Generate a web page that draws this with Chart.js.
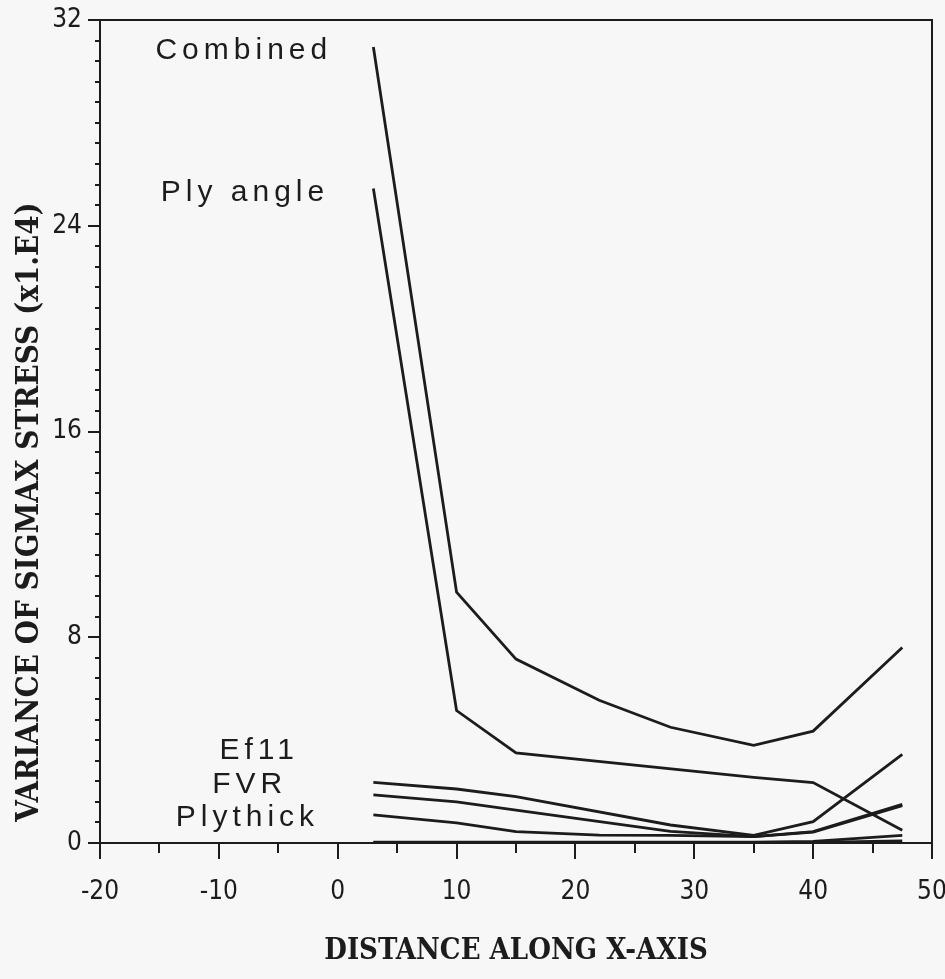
<!DOCTYPE html>
<html>
<head>
<meta charset="utf-8">
<title>Variance of sigmax stress</title>
<script src="https://cdn.jsdelivr.net/npm/chart.js@4.4.0/dist/chart.umd.min.js"></script>
<style>
    html, body { margin: 0; padding: 0; background: #f7f7f7; }
    #stressChart { display: block; }
</style>
</head>
<body>
<canvas id="stressChart" width="945" height="979"></canvas>
<script>
// Stations along the x-axis where the variance was evaluated
const distance = [3, 10, 15, 22, 28, 35, 40, 47.5];

// Variance of sigmax stress (x1.E4) per parameter group
const combined = [30.95, 9.75, 7.15, 5.55, 4.5, 3.8, 4.35, 7.6];
const plyAngle = [25.45, 5.15, 3.5, null, null, 2.55, 2.35, 0.5];
const ef11 = [2.36, 2.1, 1.8, null, 0.7, 0.3, 0.83, 3.45];
const fvr = [1.87, 1.6, 1.28, null, 0.45, 0.25, 0.44, 1.5];
const plythick = [1.09, 0.78, 0.44, 0.31, 0.3, 0.25, 0.42, 1.45];
const otherA = [0.03, 0.03, 0.03, null, 0.03, 0.03, 0.06, 0.3];
const otherB = [0.01, 0.01, 0.01, null, 0.01, 0.01, 0.02, 0.08];

// Axis tick labels
const xTicks = [-20, -10, 0, 10, 20, 30, 40, 50];
const yTicks = [0, 8, 16, 24, 32];

const ink = '#1c1c1c';
const tickFont = "'DejaVu Sans Condensed', 'DejaVu Sans', sans-serif";
const titleFont = "'DejaVu Serif Condensed', 'DejaVu Serif', serif";

function toPoints(values) {
    return values.map((v, i) => ({ x: distance[i], y: v }));
}

const seriesList = [
    { name: 'Combined', values: combined },
    { name: 'Ply angle', values: plyAngle },
    { name: 'Ef11', values: ef11 },
    { name: 'FVR', values: fvr },
    { name: 'Plythick', values: plythick },
    { name: 'otherA', values: otherA },
    { name: 'otherB', values: otherB }
];

// Curve names written inside the plot, placed in data units
const curveLabels = [
    { text: 'Combined', x: -7.9, y: 30.8 },
    { text: 'Ply angle', x: -7.8, y: 25.3 },
    { text: 'Ef11', x: -6.6, y: 3.6 },
    { text: 'FVR', x: -7.4, y: 2.25 },
    { text: 'Plythick', x: -7.6, y: 1.0 }
];

// Frame, tick marks, curve names and axis titles
const decorations = {
    id: 'decorations',
    afterDraw(chart) {
        const { ctx, chartArea: a, scales: { x, y } } = chart;
        ctx.save();
        ctx.strokeStyle = ink;
        ctx.lineWidth = 2;
        ctx.strokeRect(a.left, a.top, a.right - a.left, a.bottom - a.top);

        // x ticks every 5, longer at every 10
        for (let i = 0; i <= 14; i++) {
            const v = x.min + i * 5;
            const px = Math.round(x.getPixelForValue(v));
            ctx.beginPath();
            ctx.moveTo(px, a.bottom);
            ctx.lineTo(px, a.bottom + (i % 2 === 0 ? 16 : 10));
            ctx.stroke();
        }
        // y ticks every 0.8, longer at every 8
        for (let i = 0; i <= 40; i++) {
            const py = Math.round(y.getPixelForValue(i * 0.8));
            ctx.beginPath();
            ctx.moveTo(a.left, py);
            ctx.lineTo(a.left - (i % 10 === 0 ? 12 : 5), py);
            ctx.stroke();
        }

        ctx.fillStyle = ink;
        ctx.font = "30px 'Liberation Sans', Arial, sans-serif";
        ctx.letterSpacing = '5px';
        ctx.textAlign = 'center';
        ctx.textBaseline = 'middle';
        curveLabels.forEach(l => {
            ctx.fillText(l.text, x.getPixelForValue(l.x), y.getPixelForValue(l.y));
        });
        ctx.letterSpacing = '0px';

        ctx.font = "bold 29px " + titleFont;
        ctx.fillText('DISTANCE ALONG X-AXIS', (a.left + a.right) / 2, 951);

        ctx.font = "bold 31px " + titleFont;
        ctx.translate(30, 512);
        ctx.rotate(-Math.PI / 2);
        ctx.fillText('VARIANCE OF SIGMAX STRESS (x1.E4)', 0, 0);
        ctx.restore();
    }
};

const ctx = document.getElementById('stressChart');

new Chart(ctx, {
    type: 'line',
    data: {
        datasets: seriesList.map(s => ({
            label: s.name,
            data: toPoints(s.values),
            borderColor: ink,
            borderWidth: 2.8,
            pointRadius: 0,
            tension: 0,
            spanGaps: true,
            fill: false
        }))
    },
    options: {
        responsive: false,
        animation: false,
        layout: { padding: { top: 20, right: 13, left: 0, bottom: 0 } },
        plugins: {
            legend: { display: false },
            tooltip: { enabled: false }
        },
        scales: {
            x: {
                type: 'linear',
                min: -20,
                max: 50,
                afterBuildTicks: scale => { scale.ticks = xTicks.map(v => ({ value: v })); },
                afterFit: scale => {
                    scale.height = 136;
                    scale.paddingLeft = 0;
                    scale.paddingRight = 0;
                },
                grid: { display: false, drawTicks: false },
                border: { display: false },
                ticks: {
                    color: ink,
                    padding: 34,
                    maxRotation: 0,
                    autoSkip: false,
                    font: { family: tickFont, size: 26 }
                }
            },
            y: {
                type: 'linear',
                min: 0,
                max: 32,
                afterBuildTicks: scale => { scale.ticks = yTicks.map(v => ({ value: v })); },
                afterFit: scale => {
                    scale.width = 100;
                    scale.paddingTop = 0;
                    scale.paddingBottom = 0;
                },
                grid: { display: false, drawTicks: false },
                border: { display: false },
                ticks: {
                    color: ink,
                    padding: 18,
                    autoSkip: false,
                    font: { family: tickFont, size: 26 }
                }
            }
        }
    },
    plugins: [decorations]
});
</script>
</body>
</html>
